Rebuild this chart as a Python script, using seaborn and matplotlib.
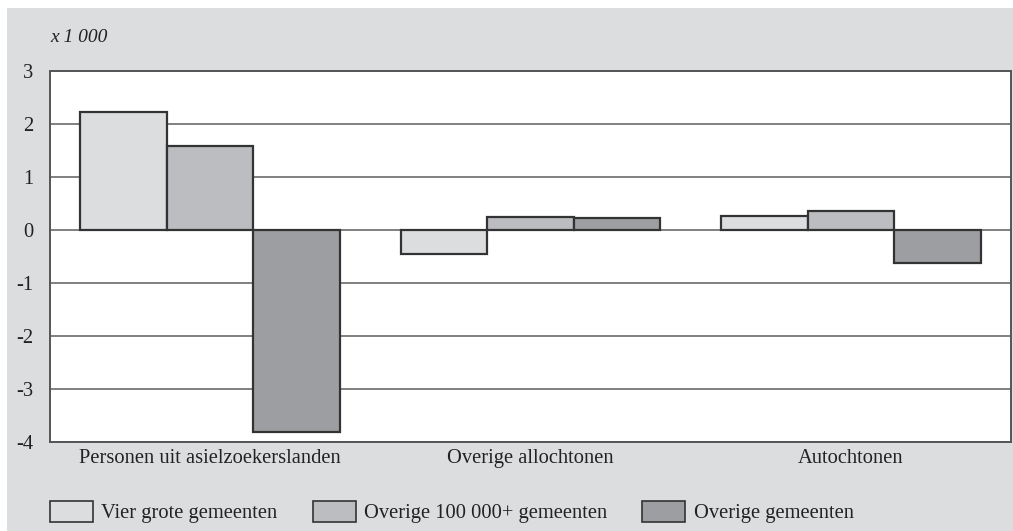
import matplotlib
matplotlib.use("Agg")
import matplotlib.pyplot as plt
from matplotlib.patches import Patch, Rectangle
import seaborn as sns
import pandas as pd

# data
categories = ["Personen uit asielzoekerslanden", "Overige allochtonen", "Autochtonen"]
series = ["Vier grote gemeenten", "Overige 100 000+ gemeenten", "Overige gemeenten"]
vier_grote = [2.23, -0.46, 0.26]
overige_100k = [1.59, 0.25, 0.36]
overige_gem = [-3.82, 0.23, -0.62]
colors = ["#dcdddf", "#bcbdc0", "#9d9ea1"]

rows = []
for name, vals in zip(series, [vier_grote, overige_100k, overige_gem]):
    for cat, v in zip(categories, vals):
        rows.append({"categorie": cat, "reeks": name, "waarde": v})
df = pd.DataFrame(rows)

sns.set_style("white")
plt.rcParams["font.family"] = ["Liberation Serif", "DejaVu Serif"]
fs = 14.8

fig = plt.figure(figsize=(10.13, 5.31), dpi=100)
fig.patches.append(Rectangle((7 / 1013, 0), 1, 1 - 8 / 531, transform=fig.transFigure,
                             facecolor="#dcdddf", edgecolor="none", zorder=-10))
ax = fig.add_axes([50 / 1013, 1 - 442 / 531, 961 / 1013, 371 / 531])
ax.set_facecolor("white")

sns.barplot(data=df, x="categorie", y="waarde", hue="reeks", order=categories,
            hue_order=series, palette=colors, width=0.81, edgecolor="#333333",
            linewidth=1.6, saturation=1, ax=ax, legend=False, zorder=3)

ax.set_ylim(-4, 3)
ax.set_xlim(-0.5, 2.5)
ax.set_yticks(range(-4, 4))
ax.set_yticklabels([str(t) for t in range(-4, 4)])
ax.yaxis.grid(True, color="#808080", linewidth=1.4)
ax.set_axisbelow(True)
ax.tick_params(axis="both", length=0, labelsize=fs, colors="#222222")
ax.tick_params(axis="y", pad=12)
ax.tick_params(axis="x", pad=5)
ax.set_xlabel("")
ax.set_ylabel("")
for s in ax.spines.values():
    s.set_color("#555555")
    s.set_linewidth(1.4)

fig.text(50 / 1013, 1 - 37 / 531, "x 1 000", fontsize=14, style="italic",
         color="#222222", va="center")

handles = [Patch(facecolor=c, edgecolor="#333333", linewidth=1.2) for c in colors]
fig.legend(handles, series, loc="center left", bbox_to_anchor=(50 / 1013, 1 - 512 / 531),
           ncol=3, frameon=False, fontsize=fs, handlelength=2.1, handleheight=1.2,
           handletextpad=0.4, columnspacing=1.7, borderpad=0, borderaxespad=0,
           labelcolor="#222222")

plt.savefig("out.png", dpi=100, facecolor="white")
